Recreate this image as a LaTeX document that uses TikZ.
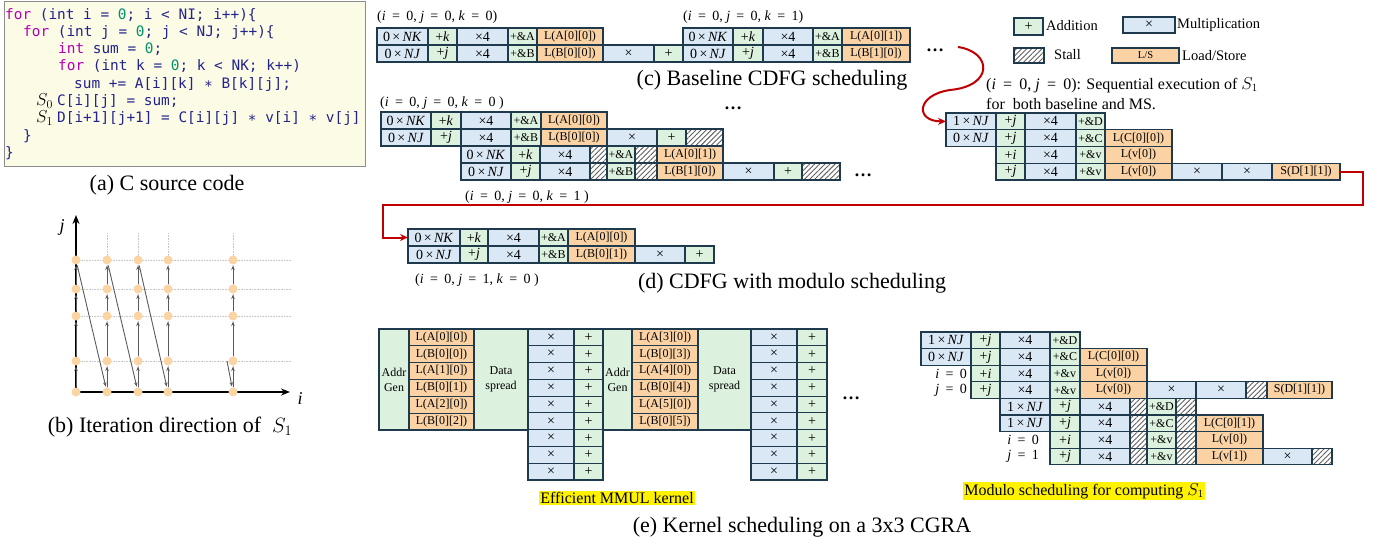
\documentclass[tikz,border=0pt]{standalone}
\usepackage{fontspec}
\setmainfont{Liberation Serif}
\newfontfamily\codefont{DejaVu Sans Mono}
\usetikzlibrary{arrows.meta,patterns.meta}

\definecolor{cellline}{HTML}{1F3A4D}
\definecolor{mulfill}{HTML}{DAE8F6}
\definecolor{addfill}{HTML}{DDF2DE}
\definecolor{lsfill}{HTML}{FAD2A4}
\definecolor{codebg}{HTML}{FBFBE6}
\definecolor{codeframe}{HTML}{8C8C8C}
\definecolor{kwcol}{HTML}{B400B4}
\definecolor{numcol}{HTML}{00936B}
\definecolor{idcol}{HTML}{23238C}
\definecolor{flow}{HTML}{C00000}
\definecolor{dotcol}{HTML}{FBD4A4}
\definecolor{arrcol}{HTML}{5A5A5A}

\newcommand\kwd[1]{\textcolor{kwcol}{#1}}
\newcommand\numc[1]{\textcolor{numcol}{#1}}
% formula-like text set in the text face
\newcommand\mt[1]{{\fontsize{14}{14}\selectfont #1}}
\newcommand\eqs{\hspace{0.45em}=\hspace{0.45em}}
\newcommand\itx[1]{\textit{#1}}

\tikzset{
  box/.style={draw=cellline, line width=1.1pt, inner sep=0pt, outer sep=0pt,
    font=\fontsize{12}{13}\selectfont},
  mul/.style={box, fill=mulfill},
  add/.style={box, fill=addfill},
  ls/.style={box, fill=lsfill},
  stall/.style={box, pattern={Lines[angle=45,distance=3.6pt,line width=0.9pt]},
    pattern color=gray!75!black},
  codeline/.style={inner sep=0pt, anchor=base west, text=idcol,
    font=\codefont\fontsize{14.4}{16}\selectfont},
  caption/.style={inner sep=0pt, font=\fontsize{22}{26}\selectfont},
  lbl/.style={inner sep=0pt, anchor=west, font=\fontsize{14}{16}\selectfont},
  legend/.style={inner sep=0pt, anchor=west, font=\fontsize{14.5}{16}\selectfont},
  note/.style={inner sep=0pt, anchor=west, font=\fontsize{16}{18}\selectfont},
  ell/.style={inner sep=0pt, font=\fontsize{18}{20}\selectfont\bfseries},
  hl/.style={fill=yellow, inner sep=1pt, font=\fontsize{16}{18}\selectfont},
  flowline/.style={draw=flow, line width=2pt, -{Stealth[length=8pt,width=7pt]}},
  gridline/.style={draw=gray!45, densely dotted, line width=0.6pt},
  axisline/.style={draw=black, line width=1.6pt, -{Stealth[length=9pt,width=7pt]}},
  garr/.style={draw=arrcol, line width=0.9pt, -{Stealth[length=4.5pt,width=3.5pt]}},
  pt/.style={circle, fill=dotcol, minimum size=9pt, inner sep=0pt, outer sep=1pt},
}

% one row of schedule cells: prefix, top, bottom, {style/x1/x2/{text}, ...}
\newcommand\cellrow[4]{%
  \foreach \cs/\xa/\xb/\tx [count=\n] in {#4}{%
    \node[\cs, minimum width={(\xb-\xa)*1pt}, minimum height={(#3-#2)*1pt}]
      (#1-\n) at ({(\xa+\xb)/2},{(#2+#3)/2}) {\tx};
  }}

\begin{document}
\begin{tikzpicture}[x=1pt,y=-1pt]
\useasboundingbox (0,0) rectangle (1380,546);

% ---------------- (a) source code ----------------
\node[draw=codeframe, fill=codebg, line width=1pt, minimum width=361pt,
  minimum height=165pt, inner sep=0pt] (codebox) at (184.5,83.5) {};
\node[codeline] (l1) at (5,19) {\kwd{for} (int i = \numc{0}; i < NI; i++)\{};
\node[codeline] (l2) at (23,36.3) {\kwd{for} (int j = \numc{0}; j < NJ; j++)\{};
\node[codeline] (l3) at (58,53.6) {\kwd{int} sum = \numc{0};};
\node[codeline] (l4) at (58,70.9) {\kwd{for} (int k = \numc{0}; k < NK; k++)};
\node[codeline] (l5) at (74,88.2) {sum += A[i][k] ∗ B[k][j];};
\node[inner sep=0pt, anchor=base west, font=\fontsize{17}{18}\selectfont] (s0) at (36,105.5) {$S_0$};
\node[codeline] (l6) at (57,105.5) {C[i][j] = sum;};
\node[inner sep=0pt, anchor=base west, font=\fontsize{17}{18}\selectfont] (s1) at (36,122.8) {$S_1$};
\node[codeline] (l7) at (57,122.8) {D[i+1][j+1] = C[i][j] ∗ v[i] ∗ v[j]};
\node[codeline] (l8) at (23,140.1) {\}};
\node[codeline] (l9) at (5,157.4) {\}};
\node[caption] (capa) at (167,185) {(a) C source code};

% ---------------- (b) iteration space ----------------
\foreach \yy in {260,289,316,361} \draw[gridline] (76,\yy) -- (292,\yy);
\foreach \xx in {107,138,168,233} \draw[gridline] (\xx,233) -- (\xx,392);
\coordinate (O) at (76,392);
\coordinate (jend) at (76,215);
\coordinate (iend) at (290,392);
\draw[axisline] (O) -- (jend);
\draw[axisline] (O) -- (iend);
\foreach \xx/\ci in {76/1,107/2,138/3,168/4,233/5}{
  \foreach \yy/\ri in {392/1,361/2,316/3,289/4,260/5}{
    \node[pt] (p\ci\ri) at (\xx,\yy) {};
  }}
\foreach \ci in {1,2,3,4,5}{
  \foreach \ra/\rb in {1/2,2/3,3/4,4/5}{
    \draw[garr] (p\ci\ra) -- (p\ci\rb);
  }}
\draw[garr] (p15) -- (p21);
\draw[garr] (p25) -- (p31);
\draw[garr] (p35) -- (p41);
\coordinate (tail) at (227,361);
\draw[garr] (tail) -- (p51);
\node[inner sep=0pt, font=\fontsize{18}{20}\selectfont\itshape] (jlab) at (62,227) {j};
\node[inner sep=0pt, font=\fontsize{18}{20}\selectfont\itshape] (ilab) at (300,399) {i};
\node[caption] (capb) at (170,427) {(b) Iteration direction of\ \ $S_1$};

% ---------------- (c) baseline CDFG ----------------
\node[lbl] (c0lab) at (377,17) {(\itx{i}\eqs0, \itx{j}\eqs0, \itx{k}\eqs0)};
\cellrow{ca}{28}{45}{mul/377/428/{\mt{0\,×\,\itx{NK}}}, add/428/457/{\mt{+\itx{k}}}, mul/457/508/{\mt{×4}}, add/508/537/{+\&A}, ls/537/603/{L(A[0][0])}}
\cellrow{cb}{45}{62}{mul/377/428/{\mt{0\,×\,\itx{NJ}}}, add/428/457/{\mt{+\itx{j}}}, mul/457/508/{\mt{×4}}, add/508/537/{+\&B}, ls/537/603/{L(B[0][0])}, mul/603/654/{\mt{×}}, add/654/683/{\mt{+}}}
\node[lbl] (c1lab) at (683,17) {(\itx{i}\eqs0, \itx{j}\eqs0, \itx{k}\eqs1)};
\cellrow{cc}{28}{45}{mul/683/733/{\mt{0\,×\,\itx{NK}}}, add/733/763/{\mt{+\itx{k}}}, mul/763/813/{\mt{×4}}, add/813/842/{+\&A}, ls/842/910/{L(A[0][1])}}
\cellrow{cd}{45}{62}{mul/683/733/{\mt{0\,×\,\itx{NJ}}}, add/733/763/{\mt{+\itx{j}}}, mul/763/813/{\mt{×4}}, add/813/842/{+\&B}, ls/842/910/{L(B[1][0])}}
\node[ell] (cdots) at (935,50) {…};
\node[caption] (capc) at (772,80) {(c) Baseline CDFG scheduling};

% ---------------- legend ----------------
\node[add, minimum width=29pt, minimum height=17pt] (lgadd) at (1028.5,26.5) {\mt{+}};
\node[legend] (lgaddt) at (1046,26) {Addition};
\node[mul, minimum width=52pt, minimum height=16pt] (lgmul) at (1149,25) {\mt{×}};
\node[legend] (lgmult) at (1177,25) {Multiplication};
\node[stall, minimum width=30pt, minimum height=15pt] (lgst) at (1029,55.5) {};
\node[legend] (lgstt) at (1054,55) {Stall};
\node[ls, minimum width=67pt, minimum height=15pt, font=\fontsize{10.5}{12}\selectfont] (lgls) at (1145.5,55.5) {L/S};
\node[legend] (lglst) at (1182,56) {Load/Store};

% ---------------- sequential S1 ----------------
\node[note] (seq1) at (986,85) {(\itx{i}\eqs0, \itx{j}\eqs0): Sequential execution of $S_1$};
\node[note] (seq2) at (986,104) {for\ \ both baseline and MS.};
\cellrow{s1}{113}{129.75}{mul/946/996/{\mt{1\,×\,\itx{NJ}}}, add/996/1025/{\mt{+\itx{j}}}, mul/1025/1076/{\mt{×4}}, add/1076/1105/{+\&D}}
\cellrow{s2}{129.75}{146.5}{mul/946/996/{\mt{0\,×\,\itx{NJ}}}, add/996/1025/{\mt{+\itx{j}}}, mul/1025/1076/{\mt{×4}}, add/1076/1105/{+\&C}, ls/1105/1172/{L(C[0][0])}}
\cellrow{s3}{146.5}{163.25}{add/996/1025/{\mt{+\itx{i}}}, mul/1025/1076/{\mt{×4}}, add/1076/1105/{+\&v}, ls/1105/1172/{L(v[0])}}
\cellrow{s4}{163.25}{180}{add/996/1025/{\mt{+\itx{j}}}, mul/1025/1076/{\mt{×4}}, add/1076/1105/{+\&v}, ls/1105/1172/{L(v[0])}, mul/1172/1222/{\mt{×}}, mul/1222/1272/{\mt{×}}, ls/1272/1340/{S(D[1][1])}}
\coordinate (rs) at (958,47);
\draw[flowline] (rs) .. controls (992,52) and (994,86) .. (950,90)
  .. controls (916,95) and (915,121.4) .. (s1-1.west);

% ---------------- overlapped iterations ----------------
\node[lbl] (m0lab) at (380,103) {(\itx{i}\eqs0, \itx{j}\eqs0, \itx{k}\eqs0\ )};
\cellrow{ma}{112}{129}{mul/381/431/{\mt{0\,×\,\itx{NK}}}, add/431/461/{\mt{+\itx{k}}}, mul/461/511/{\mt{×4}}, add/511/541/{+\&A}, ls/541/607/{L(A[0][0])}}
\cellrow{mb}{129}{146}{mul/381/431/{\mt{0\,×\,\itx{NJ}}}, add/431/461/{\mt{+\itx{j}}}, mul/461/511/{\mt{×4}}, add/511/541/{+\&B}, ls/541/607/{L(B[0][0])}, mul/607/657/{\mt{×}}, add/657/686/{\mt{+}}, stall/686/723/{}}
\cellrow{mc}{146}{163}{mul/461/511/{\mt{0\,×\,\itx{NK}}}, add/511/540/{\mt{+\itx{k}}}, mul/540/590/{\mt{×4}}, stall/590/607/{}, add/607/635/{+\&A}, stall/635/657/{}, ls/657/723/{L(A[0][1])}}
\cellrow{md}{163}{180}{mul/461/511/{\mt{0\,×\,\itx{NJ}}}, add/511/540/{\mt{+\itx{j}}}, mul/540/590/{\mt{×4}}, stall/590/607/{}, add/607/635/{+\&B}, stall/635/657/{}, ls/657/723/{L(B[1][0])}, mul/723/774/{\mt{×}}, add/774/802/{\mt{+}}, stall/802/840/{}}
\node[ell] (mdots1) at (733,108) {…};
\node[ell] (mdots2) at (863,175) {…};
\node[lbl] (m1lab) at (465,197) {(\itx{i}\eqs0, \itx{j}\eqs0, \itx{k}\eqs1\ )};

% ---------------- (d) modulo scheduling ----------------
\cellrow{d1}{229}{246}{mul/408/460/{\mt{0\,×\,\itx{NK}}}, add/460/488/{\mt{+\itx{k}}}, mul/488/539/{\mt{×4}}, add/539/568/{+\&A}, ls/568/635/{L(A[0][0])}}
\cellrow{d2}{246}{263}{mul/408/460/{\mt{0\,×\,\itx{NJ}}}, add/460/488/{\mt{+\itx{j}}}, mul/488/539/{\mt{×4}}, add/539/568/{+\&B}, ls/568/635/{L(B[0][1])}, mul/635/685/{\mt{×}}, add/685/714/{\mt{+}}}
\node[lbl] (dlab) at (415,280) {(\itx{i}\eqs0, \itx{j}\eqs1, \itx{k}\eqs0\ )};
\node[caption] (capd) at (792,283) {(d) CDFG with modulo scheduling};
\coordinate (rc1) at (1363,205);
\coordinate (rc2) at (383,205);
\draw[flowline] (s4-7.east) -| (rc1) -- (rc2) |- (d1-1.west);

% ---------------- (e) MMUL kernel ----------------
\node[add, minimum width=30pt, minimum height=101pt, align=center,
  font=\fontsize{12}{15}\selectfont] (ag1) at (394,379.5) {Addr\\Gen};
\foreach \tx [count=\n] in {L(A[0][0]),L(B[0][0]),L(A[1][0]),L(B[0][1]),L(A[2][0]),L(B[0][2])}
  \node[ls, minimum width=65pt, minimum height=16.83pt] (la-\n) at (441.5,{329+16.83*(\n-0.5)}) {\tx};
\node[add, minimum width=54pt, minimum height=101pt, align=center,
  font=\fontsize{12}{15}\selectfont] (ds1) at (501,379.5) {Data\\spread};
\foreach \n in {1,...,9}{
  \node[mul, minimum width=46pt, minimum height=16.78pt] (xa-\n) at (551,{329+16.78*(\n-0.5)}) {\mt{×}};
  \node[add, minimum width=29pt, minimum height=16.78pt] (pa-\n) at (588.5,{329+16.78*(\n-0.5)}) {\mt{+}};
}
\node[add, minimum width=29pt, minimum height=101pt, align=center,
  font=\fontsize{12}{15}\selectfont] (ag2) at (617.5,379.5) {Addr\\Gen};
\foreach \tx [count=\n] in {L(A[3][0]),L(B[0][3]),L(A[4][0]),L(B[0][4]),L(A[5][0]),L(B[0][5])}
  \node[ls, minimum width=66pt, minimum height=16.83pt] (lb-\n) at (665,{329+16.83*(\n-0.5)}) {\tx};
\node[add, minimum width=53pt, minimum height=101pt, align=center,
  font=\fontsize{12}{15}\selectfont] (ds2) at (724.5,379.5) {Data\\spread};
\foreach \n in {1,...,9}{
  \node[mul, minimum width=46pt, minimum height=16.78pt] (xb-\n) at (774,{329+16.78*(\n-0.5)}) {\mt{×}};
  \node[add, minimum width=30pt, minimum height=16.78pt] (pb-\n) at (812,{329+16.78*(\n-0.5)}) {\mt{+}};
}
\node[ell] (edots) at (851,398) {…};
\node[hl] (hlk) at (617,498) {Efficient MMUL kernel};

% ---------------- (e) modulo kernel for S1 ----------------
\cellrow{k1}{332}{348.6}{mul/921/971/{\mt{1\,×\,\itx{NJ}}}, add/971/1000/{\mt{+\itx{j}}}, mul/1000/1050/{\mt{×4}}, add/1050/1080/{+\&D}}
\cellrow{k2}{348.6}{365.2}{mul/921/971/{\mt{0\,×\,\itx{NJ}}}, add/971/1000/{\mt{+\itx{j}}}, mul/1000/1050/{\mt{×4}}, add/1050/1080/{+\&C}, ls/1080/1147/{L(C[0][0])}}
\cellrow{k3}{365.2}{381.8}{add/971/1000/{\mt{+\itx{i}}}, mul/1000/1050/{\mt{×4}}, add/1050/1080/{+\&v}, ls/1080/1147/{L(v[0])}}
\cellrow{k4}{381.8}{398.4}{add/971/1000/{\mt{+\itx{j}}}, mul/1000/1050/{\mt{×4}}, add/1050/1080/{+\&v}, ls/1080/1147/{L(v[0])}, mul/1147/1196/{\mt{×}}, mul/1196/1246/{\mt{×}}, stall/1246/1267/{}, ls/1267/1332/{S(D[1][1])}}
\cellrow{k5}{398.4}{415}{mul/1000/1050/{\mt{1\,×\,\itx{NJ}}}, add/1050/1080/{\mt{+\itx{j}}}, mul/1080/1130/{\mt{×4}}, stall/1130/1147/{}, add/1147/1176/{+\&D}, stall/1176/1196/{}}
\cellrow{k6}{415}{431.6}{mul/1000/1050/{\mt{1\,×\,\itx{NJ}}}, add/1050/1080/{\mt{+\itx{j}}}, mul/1080/1130/{\mt{×4}}, stall/1130/1147/{}, add/1147/1176/{+\&C}, stall/1176/1196/{}, ls/1196/1263/{L(C[0][1])}}
\cellrow{k7}{431.6}{448.2}{add/1050/1080/{\mt{+\itx{i}}}, mul/1080/1130/{\mt{×4}}, stall/1130/1147/{}, add/1147/1176/{+\&v}, stall/1176/1196/{}, ls/1196/1263/{L(v[0])}}
\cellrow{k8}{448.2}{464.8}{add/1050/1080/{\mt{+\itx{j}}}, mul/1080/1130/{\mt{×4}}, stall/1130/1147/{}, add/1147/1176/{+\&v}, stall/1176/1196/{}, ls/1196/1263/{L(v[1])}, mul/1263/1312/{\mt{×}}, stall/1312/1332/{}}
\node[inner sep=0pt, anchor=east, font=\fontsize{14}{16}\selectfont] (ki0) at (967,373.5) {\itx{i}\eqs0};
\node[inner sep=0pt, anchor=east, font=\fontsize{14}{16}\selectfont] (kj0) at (967,390) {\itx{j}\eqs0};
\node[inner sep=0pt, anchor=east, font=\fontsize{14}{16}\selectfont] (ki1) at (1039,440) {\itx{i}\eqs0};
\node[inner sep=0pt, anchor=east, font=\fontsize{14}{16}\selectfont] (kj1) at (1039,456.5) {\itx{j}\eqs1};
\node[hl] (hlm) at (1084,491) {Modulo scheduling for computing $S_1$};
\node[caption] (cape) at (802,527) {(e) Kernel scheduling on a 3x3 CGRA};
\end{tikzpicture}
\end{document}
